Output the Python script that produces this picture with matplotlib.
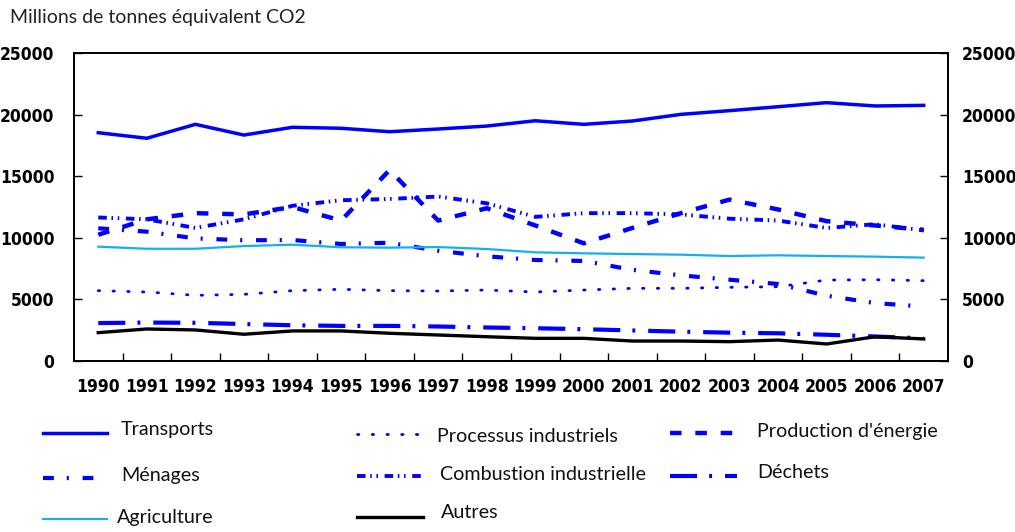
import matplotlib
matplotlib.use("Agg")
import matplotlib.pyplot as plt
from matplotlib.lines import Line2D

years = [str(y) for y in range(1990, 2008)]

transports = [18530, 18080, 19210, 18340, 18970, 18890, 18610, 18830, 19070,
              19500, 19210, 19480, 20020, 20320, 20640, 20970, 20700, 20750]
processus = [5710, 5600, 5330, 5410, 5710, 5820, 5710, 5680, 5760,
             5600, 5760, 5900, 5900, 5980, 6030, 6570, 6600, 6520]
production = [10250, 11500, 12000, 11900, 12500, 11400, 15500, 11400, 12400,
              11000, 9550, 10800, 12000, 13100, 12300, 11350, 11000, 10650]
menages = [10770, 10500, 9950, 9800, 9820, 9500, 9600, 8950, 8500,
           8200, 8120, 7400, 6950, 6600, 6250, 5300, 4700, 4420]
combustion = [11650, 11500, 10800, 11500, 12600, 13050, 13150, 13350, 12800,
              11700, 12000, 12000, 11900, 11550, 11400, 10800, 11100, 10600]
dechets = [3080, 3120, 3100, 3000, 2900, 2850, 2850, 2800, 2720,
           2660, 2580, 2480, 2380, 2300, 2250, 2130, 1990, 1840]
agriculture = [9280, 9110, 9110, 9330, 9440, 9230, 9200, 9250, 9090,
               8820, 8740, 8680, 8630, 8520, 8580, 8520, 8470, 8390]
autres = [2300, 2600, 2520, 2170, 2440, 2440, 2250, 2110, 1970,
          1840, 1840, 1620, 1620, 1570, 1700, 1380, 1970, 1790]

labels = ["Transports", "Processus industriels", "Production d'énergie",
          "Ménages", "Combustion industrielle", "Déchets",
          "Agriculture", "Autres"]
series = [transports, processus, production, menages, combustion, dechets,
          agriculture, autres]

BLUE = "#0000ff"
styles = [
    dict(color=BLUE, lw=2.5, ls="-"),
    dict(color=BLUE, lw=2.0, ls=(0, (0.5, 4.8)), dash_capstyle="round"),
    dict(color=BLUE, lw=3.2, ls=(0, (2.6, 3.1))),
    dict(color=BLUE, lw=3.0, ls=(0, (2.6, 3.1, 0.5, 3.3))),
    dict(color=BLUE, lw=2.8, ls=(0, (2.2, 1.2, 0.4, 1.2, 0.4, 1.7))),
    dict(color=BLUE, lw=3.0, ls=(0, (6.5, 2.9, 0.7, 3.1))),
    dict(color="#14aff0", lw=1.6, ls="-"),
    dict(color="black", lw=2.4, ls="-"),
]

TICKFONT = dict(family="DejaVu Sans", stretch="condensed", weight="bold", size=12.5)

W, H = 1015, 532
fig = plt.figure(figsize=(W / 100, H / 100), dpi=100)
ax = fig.add_axes([74 / W, 1 - 361 / H, (948 - 74) / W, (361 - 53) / H])

x = list(range(len(years)))
for vals, st in zip(series, styles):
    ax.plot(x, vals, **st)

ax.set_xlim(-0.5, len(years) - 0.5)
ax.set_ylim(0, 25000)
ax.set_yticks(range(0, 25001, 5000))
ax.set_xticks([i + 0.5 for i in range(len(years) - 1)])
ax.set_xticklabels([])
ax.set_xticks(x, minor=True)
ax.set_xticklabels(years, minor=True, fontdict=TICKFONT)
ax.tick_params(axis="x", which="major", direction="in", length=6, width=1)
ax.tick_params(axis="x", which="minor", length=0, pad=12)
ax.tick_params(axis="y", direction="in", length=6, width=1, pad=14)
for lab in ax.get_yticklabels():
    lab.update(TICKFONT)
for s in ax.spines.values():
    s.set_linewidth(1.3)

ax2 = ax.twinx()
ax2.set_ylim(0, 25000)
ax2.set_yticks(range(0, 25001, 5000))
ax2.tick_params(axis="y", direction="in", length=6, width=1, pad=10)
for lab in ax2.get_yticklabels():
    lab.update(TICKFONT)
for s in ax2.spines.values():
    s.set_linewidth(1.3)

fig.text(10 / W, 1 - 17 / H, "Millions de tonnes équivalent CO2",
         family="Lato", fontsize=14, va="center", ha="left", color="#222222")

# hand-placed legend (pixel layout of the original)
handle_pos = [(43, 107, 433), (357, 420, 434), (670, 738, 433),
              (43, 97, 478), (357, 425, 476), (670, 737, 476),
              (43, 107, 519), (357, 423, 517)]
text_pos = [(121, 430), (437, 436), (757, 432),
            (121, 476), (440, 474), (757, 472),
            (117, 518), (441, 512)]
for lab, st, (x0, x1, yh), (xt, yt) in zip(labels, styles, handle_pos, text_pos):
    fig.add_artist(Line2D([x0 / W, x1 / W], [1 - yh / H, 1 - yh / H],
                          transform=fig.transFigure, **st))
    fig.text(xt / W, 1 - yt / H, lab, family="Lato", fontsize=14.2,
             va="center", ha="left", color="#111111")

fig.savefig("out.png", dpi=100)
